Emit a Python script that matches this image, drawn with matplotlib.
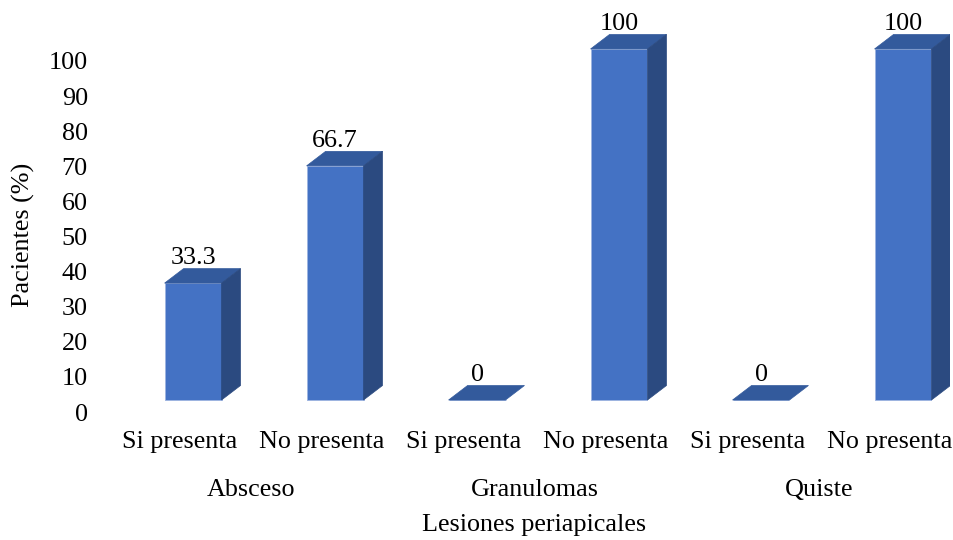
import matplotlib.pyplot as plt
from matplotlib.patches import Polygon
from matplotlib.transforms import ScaledTranslation

plt.rcParams['font.family'] = ['Liberation Serif', 'DejaVu Serif']
plt.rcParams['font.size'] = 18.8

grupos = ["Absceso", "Granulomas", "Quiste"]
subcats = ["Si presenta", "No presenta"]
valores = [33.3, 66.7, 0, 100, 0, 100]
etiquetas = ["33.3", "66.7", "0", "100", "0", "100"]

c_frente = '#4472c4'
c_tapa = '#335a9c'
c_lado = '#2b4a80'
c_borde = '#9db4e0'

fig = plt.figure(figsize=(9.54, 5.4), dpi=100)
ax = fig.add_axes([0.1153, 0.2222, 0.8805, 0.7593])

ax.set_xlim(-0.585, 5.331)
ax.set_ylim(-5.7, 111.1)

# profundidad del efecto 3D en pixeles -> unidades de datos
prof_x_px, prof_y_px = 19, 14.5
ancho_px = fig.get_figwidth() * fig.dpi * ax.get_position().width
alto_px = fig.get_figheight() * fig.dpi * ax.get_position().height
dx = prof_x_px * (ax.get_xlim()[1] - ax.get_xlim()[0]) / ancho_px
dy = prof_y_px * (ax.get_ylim()[1] - ax.get_ylim()[0]) / alto_px

w = 0.401
xs = list(range(len(valores)))
ax.bar(xs, valores, width=w, color=c_frente, edgecolor=c_borde, linewidth=0.7, zorder=2)

for x, v, lab in zip(xs, valores, etiquetas):
    x0, x1 = x - w / 2, x + w / 2
    tapa = Polygon([(x0, v), (x1, v), (x1 + dx, v + dy), (x0 + dx, v + dy)],
                   closed=True, facecolor=c_tapa, edgecolor=c_tapa, linewidth=0.5, zorder=3)
    ax.add_patch(tapa)
    if v > 0:
        lado = Polygon([(x1, 0), (x1 + dx, dy), (x1 + dx, v + dy), (x1, v)],
                       closed=True, facecolor=c_lado, edgecolor=c_lado, linewidth=0.5, zorder=3)
        ax.add_patch(lado)
    ax.annotate(lab, (x, v + dy), xytext=(0, 3), textcoords='offset points',
                ha='center', va='baseline')

# ejes
for s in ax.spines.values():
    s.set_visible(False)
ax.set_yticks(range(0, 101, 10))
ax.tick_params(axis='y', length=0, pad=16)
ax.tick_params(axis='x', length=0, pad=8)
for t in ax.get_yticklabels():
    t.set_transform(t.get_transform() + ScaledTranslation(0, -0.12, fig.dpi_scale_trans))

ax.set_xticks(xs)
ax.set_xticklabels(subcats * len(grupos))
for t in ax.get_xticklabels():
    t.set_transform(t.get_transform() + ScaledTranslation(-0.13, 0, fig.dpi_scale_trans))

trans = ax.get_xaxis_transform() + ScaledTranslation(-0.13, 0, fig.dpi_scale_trans)
for i, g in enumerate(grupos):
    ax.text(2 * i + 0.5, -0.171, g, transform=trans, ha='center', va='center')

ax.text(0.505, -0.256, "Lesiones periapicales", transform=ax.transAxes,
        ha='center', va='center')
ax.text(-0.1036, 0.451, "Pacientes (%)", transform=ax.transAxes,
        ha='center', va='center', rotation=90)

fig.savefig('out.png', dpi=100)
